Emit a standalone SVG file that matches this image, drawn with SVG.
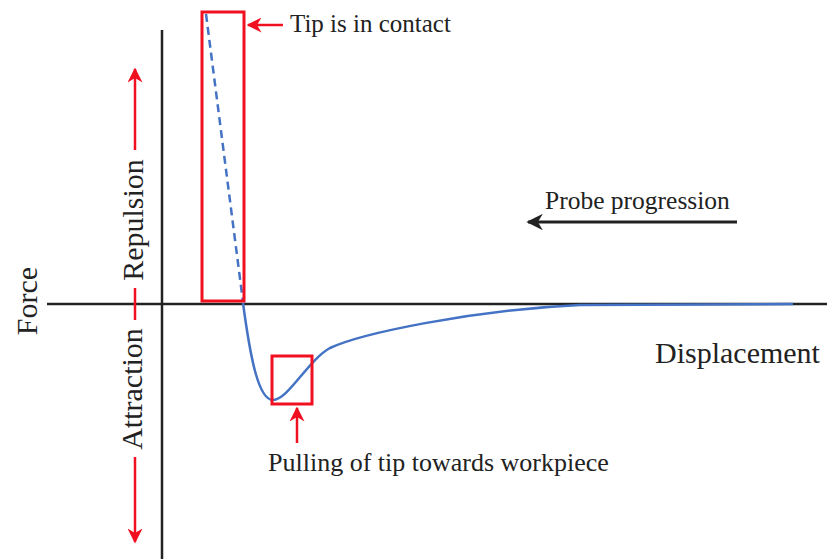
<svg xmlns="http://www.w3.org/2000/svg" width="827" height="559" viewBox="0 0 827 559">
<style>
.t{font-family:"Liberation Serif","Times New Roman",serif;fill:#222}
.ax{stroke:#222;stroke-width:2.5;fill:none}
.red{stroke:#f01020;stroke-width:2.5;fill:none}
.box{stroke:#f01020;stroke-width:3;fill:none}
.curve{stroke:#4472c4;stroke-width:2.5;fill:none}
</style>
<defs>
<marker id="ra" viewBox="0 0 10 10" refX="9" refY="5" markerWidth="6" markerHeight="6" orient="auto" markerUnits="strokeWidth">
<path d="M0,0 L10,5 L0,10 L3,5 Z" fill="#f01020"/>
</marker>
<marker id="ba" viewBox="0 0 10 10" refX="9" refY="5" markerWidth="5.5" markerHeight="5.5" orient="auto" markerUnits="strokeWidth">
<path d="M0,0 L10,5 L0,10 L3,5 Z" fill="#222"/>
</marker>
</defs>
<rect width="827" height="559" fill="#fff"/>
<g id="axes">
<line class="ax" x1="47" y1="304" x2="827" y2="304"/>
<line class="ax" x1="162" y1="30" x2="162" y2="559"/>
</g>
<g id="curve">
<line class="curve" x1="206" y1="14" x2="243" y2="302" stroke-dasharray="8 5"/>
<path class="curve" d="M243,303 C250,355 258,400 273,400 C288,400 308,360 330,348 C360,334 470,310 580,305 L793,304"/>
</g>
<g id="contact-box">
<rect class="box" x="202" y="12" width="42" height="289"/>
</g>
<g id="pull-box">
<rect class="box" x="272" y="356" width="40" height="48"/>
</g>
<g id="connectors">
<line class="red" x1="283" y1="25" x2="248" y2="25" marker-end="url(#ra)"/>
<line class="red" x1="297" y1="443" x2="297" y2="408" marker-end="url(#ra)"/>
<line class="red" x1="135" y1="150" x2="135" y2="69" marker-end="url(#ra)"/>
<line class="red" x1="135" y1="288" x2="135" y2="320"/>
<line class="red" x1="135" y1="457" x2="135" y2="542" marker-end="url(#ra)"/>
<line x1="737" y1="222" x2="528" y2="222" stroke="#222" stroke-width="3" marker-end="url(#ba)"/>
</g>
<g id="labels">
<text class="t" x="290" y="32" font-size="25">Tip is in contact</text>
<text class="t" x="545" y="209" font-size="25.5">Probe progression</text>
<text class="t" x="268" y="471" font-size="26">Pulling of tip towards workpiece</text>
<text class="t" x="655" y="363" font-size="30">Displacement</text>
<text class="t" transform="translate(37,301) rotate(-90)" text-anchor="middle" font-size="30">Force</text>
<text class="t" transform="translate(143,220) rotate(-90)" text-anchor="middle" font-size="30">Repulsion</text>
<text class="t" transform="translate(142,389) rotate(-90)" text-anchor="middle" font-size="30">Attraction</text>
</g>
</svg>
